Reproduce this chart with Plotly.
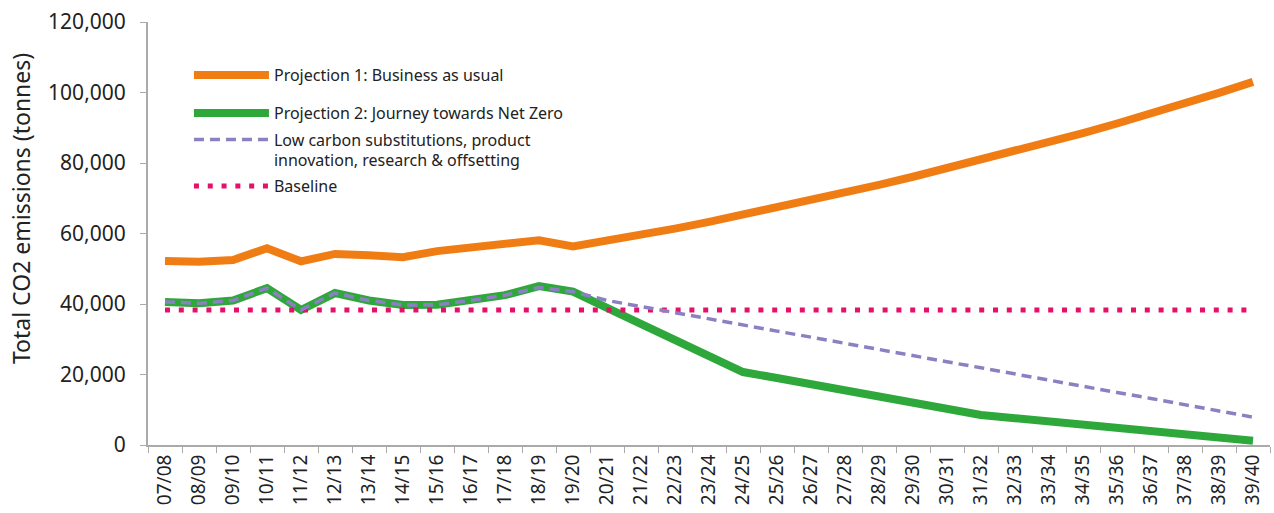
import plotly.graph_objects as go

categories = ["07/08", "08/09", "09/10", "10/11", "11/12", "12/13", "13/14", "14/15",
              "15/16", "16/17", "17/18", "18/19", "19/20", "20/21", "21/22", "22/23",
              "23/24", "24/25", "25/26", "26/27", "27/28", "28/29", "29/30", "30/31",
              "31/32", "32/33", "33/34", "34/35", "35/36", "36/37", "37/38", "38/39", "39/40"]

business_as_usual = [52200, 52000, 52500, 55800, 52100, 54200, 53800, 53300,
                     55000, 56000, 57000, 58100, 56300, 57900, 59600, 61400,
                     63300, 65300, 67300, 69400, 71600, 73800, 76100, 78500,
                     80900, 83400, 85900, 88500, 91200, 94000, 96900, 99900, 103000]

net_zero = [40600, 40200, 41000, 44500, 38300, 43100, 41000, 39700,
            39800, 41000, 42500, 45100, 43500, 38900, 34300, 29700,
            25100, 20700, 19000, 17300, 15500, 13800, 12000, 10200,
            8500, 7600, 6700, 5800, 4800, 3900, 3000, 2100, 1200]

low_carbon = [40600, 40200, 41000, 44500, 38300, 43100, 41000, 39700,
              39800, 41000, 42500, 44700, 43500, 41000, 39300, 37500,
              35800, 34000, 32300, 30600, 28800, 27100, 25400, 23600,
              21900, 20100, 18400, 16700, 14900, 13200, 11400, 9700, 7900]

baseline = [38300] * len(categories)

names = ["Projection 1: Business as usual",
         "Projection 2: Journey towards Net Zero",
         "Low carbon substitutions, product<br>innovation, research & offsetting",
         "Baseline"]

y_title = "Total CO2 emissions (tonnes)"

font_family = "Noto Sans, Open Sans, sans-serif"
text_color = "#222222"
axis_color = "#AAAAAA"

fig = go.Figure()
fig.add_trace(go.Scatter(x=categories, y=business_as_usual, mode="lines", name=names[0],
                         legend="legend",
                         line=dict(color="#F07D14", width=8)))
fig.add_trace(go.Scatter(x=categories, y=net_zero, mode="lines", name=names[1],
                         legend="legend2",
                         line=dict(color="#2EA83A", width=8)))
fig.add_trace(go.Scatter(x=categories, y=baseline, mode="lines", name=names[3],
                         legend="legend4",
                         line=dict(color="#E5106A", width=5, dash="5px,8.8px")))
fig.add_trace(go.Scatter(x=categories, y=low_carbon, mode="lines", name=names[2],
                         legend="legend3",
                         line=dict(color="#8A80C2", width=3.5, dash="10px,6px")))


def legend_box(ypos):
    return dict(x=0.0365, y=ypos, xanchor="left", yanchor="middle",
                bgcolor="rgba(0,0,0,0)", font=dict(size=16, color=text_color),
                itemwidth=75, valign="top")


fig.update_layout(
    width=1274, height=513,
    margin=dict(l=148, r=4, t=22, b=68),
    paper_bgcolor="white", plot_bgcolor="white",
    font=dict(family=font_family, color=text_color),
    showlegend=True,
    legend=legend_box(0.8747),
    legend2=legend_box(0.7849),
    legend3=legend_box(0.6974),
    legend4=legend_box(0.6123),
    annotations=[dict(text=y_title, textangle=-90, x=-0.1132, y=0.56,
                      xref="paper", yref="paper", xanchor="center", yanchor="middle",
                      showarrow=False, font=dict(size=23, color=text_color))],
)
fig.update_xaxes(
    type="category", range=[-0.5, 32.5], automargin=False,
    showline=True, linecolor=axis_color, linewidth=2,
    ticks="outside", tickson="boundaries", ticklen=6, tickcolor=axis_color,
    tickangle=-90, tickfont=dict(size=19, color=text_color),
    showgrid=False, zeroline=False,
)
fig.update_yaxes(
    range=[0, 120000], dtick=20000, tickformat=",", automargin=False,
    showline=True, linecolor=axis_color, linewidth=2,
    ticks="outside", ticklen=6, tickcolor=axis_color, ticklabelstandoff=10,
    tickfont=dict(size=21, color=text_color),
    showgrid=False, zeroline=False,
)

fig.write_html("out.html", config={"displayModeBar": False},
               post_script="document.body.style.margin='0px';")
